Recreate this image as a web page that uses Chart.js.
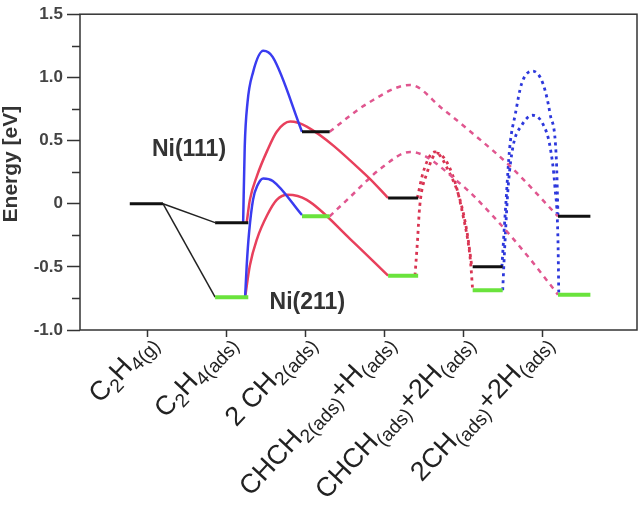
<!DOCTYPE html>
<html>
<head>
<meta charset="utf-8">
<script src="https://cdn.jsdelivr.net/npm/chart.js@4.4.1/dist/chart.umd.min.js"></script>
<style>
  html, body { margin: 0; padding: 0; background: #fff; }
  #wrap { width: 642px; height: 505px; }
</style>
</head>
<body>
<div id="wrap"><canvas id="energyChart"></canvas></div>
<script>
// states along the reaction path, {} = subscript
const stateLabels = ['C{2}H{4}{(g)}', 'C{2}H{4}{(ads)}', '2 CH{2}{(ads)}', 'CHCH{2}{(ads)}+H{(ads)}', 'CHCH{(ads)}+2H{(ads)}', '2CH{(ads)}+2H{(ads)}'];
const stateTicks = [0, 1, 2, 3, 4, 5];

// horizontal extent of each energy level (x units of the state axis)
const levelLeft = [-0.23, 0.85, 1.95, 3.04, 4.11, 5.19];
const levelRight = [0.19, 1.27, 2.30, 3.42, 4.49, 5.60];

// energies in eV
const ni111Levels = [0, -0.15, 0.57, 0.045, -0.50, -0.10];
const ni211Levels = [null, -0.74, -0.10, -0.57, -0.685, -0.72];

// transition state paths [x, E]
const tsC2H4toCH2_111 = [[1.205, -0.15], [1.225, 0.45], [1.26, 0.80], [1.33, 1.04], [1.46, 1.21], [1.58, 1.16], [1.95, 0.57]];
const tsC2H4toCH2_211 = [[1.23, -0.74], [1.25, -0.49], [1.28, -0.23], [1.33, 0.03], [1.39, 0.15], [1.46, 0.20], [1.58, 0.18], [1.95, -0.09]];
const tsC2H4toCHCH2_111 = [[1.25, -0.15], [1.29, 0.03], [1.38, 0.22], [1.51, 0.42], [1.63, 0.57], [1.80, 0.65], [2.01, 0.61], [2.77, 0.22], [3.04, 0.045]];
const tsC2H4toCHCH2_211 = [[1.23, -0.74], [1.29, -0.49], [1.38, -0.28], [1.51, -0.09], [1.63, 0.03], [1.77, 0.07], [2.01, 0.03], [2.56, -0.28], [3.04, -0.57]];
const tsCH2toCH_111 = [[2.30, 0.57], [2.77, 0.79], [3.32, 0.94], [3.73, 0.75], [4.16, 0.53], [4.58, 0.30], [5.19, -0.10]];
const tsCH2toCH_211 = [[2.30, -0.10], [2.52, 0.03], [2.97, 0.29], [3.32, 0.41], [3.95, 0.16], [4.37, -0.10], [4.80, -0.41], [5.19, -0.72]];
const tsCHCH2toCHCH_111 = [[3.41, 0.045], [3.48, 0.24], [3.57, 0.38], [3.63, 0.41], [3.82, 0.24], [3.95, 0.03], [4.04, -0.23], [4.10, -0.50]];
const tsCHCH2toCHCH_211 = [[3.38, -0.57], [3.41, -0.31], [3.44, -0.02], [3.53, 0.24], [3.66, 0.40], [3.86, 0.22], [3.99, -0.10], [4.08, -0.44], [4.11, -0.685]];
const tsCHCHtoCH_111 = [[4.48, -0.50], [4.53, 0.0], [4.58, 0.45], [4.65, 0.71], [4.73, 0.95], [4.87, 1.05], [5.00, 0.95], [5.09, 0.71], [5.17, 0.34], [5.19, -0.10]];
const tsCHCHtoCH_211 = [[4.49, -0.685], [4.52, -0.29], [4.56, 0.14], [4.62, 0.45], [4.73, 0.62], [4.87, 0.70], [5.00, 0.63], [5.09, 0.45], [5.15, 0.14], [5.19, -0.30], [5.20, -0.72]];

const FONT = "'Liberation Sans', Arial, Helvetica, sans-serif";

function pts(arr) {
  return arr.map(p => ({ x: p[0], y: p[1] }));
}

function curve(arr, color, dash, width) {
  return {
    data: pts(arr),
    borderColor: color,
    borderWidth: width,
    borderDash: dash,
    pointRadius: 0,
    cubicInterpolationMode: 'monotone',
    fill: false
  };
}

function level(i, e, color, width) {
  return {
    data: [{ x: levelLeft[i], y: e }, { x: levelRight[i], y: e }],
    borderColor: color,
    borderWidth: width,
    pointRadius: 0,
    fill: false
  };
}

const datasets = [];
// levels first so they sit on top of the curves
ni111Levels.forEach((e, i) => datasets.push(level(i, e, '#111111', 3)));
ni211Levels.forEach((e, i) => { if (e !== null) datasets.push(level(i, e, '#6ae33c', 4)); });

// adsorption lines from the gas phase
datasets.push({ data: [{ x: levelRight[0], y: ni111Levels[0] }, { x: levelLeft[1], y: ni111Levels[1] }], borderColor: '#222', borderWidth: 1.5, pointRadius: 0 });
datasets.push({ data: [{ x: levelRight[0], y: ni111Levels[0] }, { x: levelLeft[1], y: ni211Levels[1] }], borderColor: '#222', borderWidth: 1.5, pointRadius: 0 });

datasets.push(curve(tsC2H4toCH2_111, '#3a3cf0', [], 2.5));
datasets.push(curve(tsC2H4toCH2_211, '#3a3cf0', [], 2.5));
datasets.push(curve(tsC2H4toCHCH2_111, '#e8405c', [], 2.5));
datasets.push(curve(tsC2H4toCHCH2_211, '#e8405c', [], 2.5));
datasets.push(curve(tsCH2toCH_111, '#e0568f', [5, 5], 2.5));
datasets.push(curve(tsCH2toCH_211, '#e0568f', [5, 5], 2.5));
datasets.push(curve(tsCHCH2toCHCH_111, '#d93452', [3, 4], 2.8));
datasets.push(curve(tsCHCH2toCHCH_211, '#d93452', [3, 4], 2.8));
datasets.push(curve(tsCHCHtoCH_111, '#2d38dc', [3, 4], 2.8));
datasets.push(curve(tsCHCHtoCH_211, '#2d38dc', [3, 4], 2.8));

function drawRich(ctx, text, size, subSize) {
  const parts = text.split(/(\{[^}]*\})/).filter(s => s.length);
  const segs = parts.map(s => {
    const sub = s[0] === '{';
    const t = sub ? s.slice(1, -1) : s;
    ctx.font = (sub ? subSize : size) + 'px ' + FONT;
    return { t, sub, w: ctx.measureText(t).width };
  });
  const total = segs.reduce((a, s) => a + s.w, 0);
  let cx = -total;
  segs.forEach(s => {
    ctx.font = (s.sub ? subSize : size) + 'px ' + FONT;
    ctx.fillText(s.t, cx, s.sub ? 6 : 0);
    cx += s.w;
  });
}

const decor = {
  id: 'decor',
  afterDraw(chart) {
    const { ctx, chartArea: a, scales: { x, y } } = chart;
    ctx.save();
    // frame
    ctx.strokeStyle = '#333';
    ctx.lineWidth = 1.5;
    ctx.strokeRect(a.left, a.top, a.right - a.left, a.bottom - a.top);
    // minor ticks on the energy axis
    ctx.beginPath();
    for (let v = -0.75; v < 1.5; v += 0.5) {
      const py = Math.round(y.getPixelForValue(v)) + 0.5;
      ctx.moveTo(a.left - 8, py);
      ctx.lineTo(a.left, py);
    }
    ctx.stroke();

    // axis title
    ctx.save();
    ctx.fillStyle = '#333';
    ctx.font = 'bold 21px ' + FONT;
    ctx.textAlign = 'center';
    ctx.translate(17, (a.top + a.bottom) / 2 - 8);
    ctx.rotate(-Math.PI / 2);
    ctx.fillText('Energy [eV]', 0, 0);
    ctx.restore();

    // state labels, rotated with subscripts
    ctx.fillStyle = '#222';
    ctx.textAlign = 'left';
    ctx.textBaseline = 'alphabetic';
    stateLabels.forEach((lab, i) => {
      const px = x.getPixelForValue(stateTicks[i]);
      ctx.save();
      ctx.translate(px + 9, a.bottom + 13);
      ctx.rotate(-47 * Math.PI / 180);
      drawRich(ctx, lab, 27, 19);
      ctx.restore();
    });

    // surface labels
    ctx.fillStyle = '#333';
    ctx.font = 'bold 23px ' + FONT;
    ctx.fillText('Ni(111)', x.getPixelForValue(0.05), y.getPixelForValue(0.38));
    ctx.fillText('Ni(211)', x.getPixelForValue(1.54), y.getPixelForValue(-0.83));
    ctx.restore();
  }
};

new Chart('energyChart', {
  type: 'line',
  data: { datasets: datasets },
  options: {
    responsive: true,
    maintainAspectRatio: false,
    animation: false,
    layout: { padding: { top: 10, right: 5, left: 0, bottom: 0 } },
    plugins: {
      legend: { display: false },
      tooltip: { enabled: false }
    },
    scales: {
      x: {
        type: 'linear',
        min: -0.86,
        max: 6.19,
        afterBuildTicks: s => { s.ticks = stateTicks.map(v => ({ value: v })); },
        afterFit: s => { s.height = 175; },
        grid: { drawOnChartArea: false, tickLength: 7, color: '#333', tickWidth: 1.5 },
        border: { display: false },
        ticks: { autoSkip: false, maxRotation: 0, callback: () => '' }
      },
      y: {
        min: -1,
        max: 1.5,
        afterFit: s => { s.width = 80; },
        grid: { drawOnChartArea: false, tickLength: 13, color: '#333', tickWidth: 1.5 },
        border: { display: false },
        ticks: {
          stepSize: 0.5,
          padding: 4,
          color: '#444',
          font: { family: FONT, size: 17, weight: 'bold' },
          callback: v => v === 0 ? '0' : v.toFixed(1)
        }
      }
    }
  },
  plugins: [decor]
});
</script>
</body>
</html>
